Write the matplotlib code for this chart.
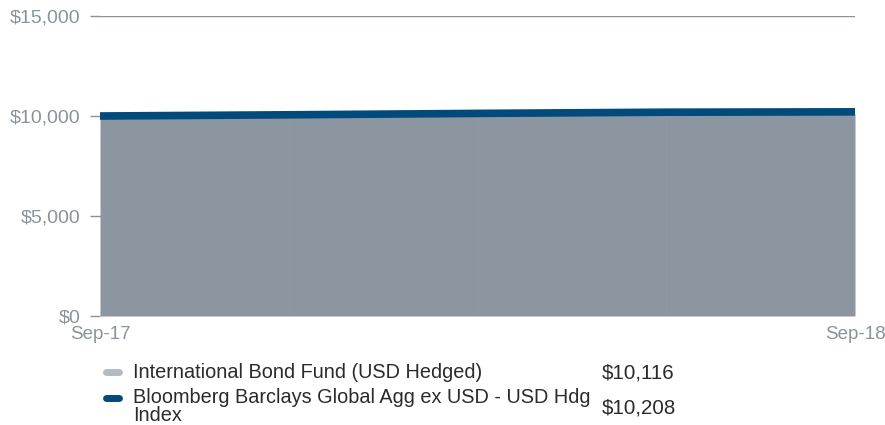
import matplotlib
matplotlib.use('Agg')
import matplotlib.pyplot as plt
from matplotlib.lines import Line2D
from matplotlib.ticker import FuncFormatter

plt.rcParams['font.family'] = ['Liberation Sans', 'DejaVu Sans']

# 季度数据 Sep-17 ~ Sep-18
quarters = ['Sep-17', 'Dec-17', 'Mar-18', 'Jun-18', 'Sep-18']
fund_values = [10000, 10040, 10080, 10110, 10116]
index_values = [10000, 10060, 10130, 10190, 10208]
x_ticks = ['Sep-17', 'Sep-18']
legend_names = ['International Bond Fund (USD Hedged)',
                'Bloomberg Barclays Global Agg ex USD - USD Hdg\nIndex']
legend_values = ['$10,116', '$10,208']

GRAY = '#8c96a1'
BLUE = '#004a7c'
LIGHT = '#b3bac2'
TICK = '#8a939c'
TEXT = '#2b2b2b'

fig = plt.figure(figsize=(8.85, 4.25), dpi=100)
ax = fig.add_axes([100 / 885, 109 / 425, 755 / 885, 300 / 425])

x = list(range(len(quarters)))
ax.fill_between(x, 0, fund_values, color=GRAY, linewidth=0, zorder=2)
for xi in x[1:-1]:
    ax.plot([xi, xi], [0, fund_values[xi]], color='#929ba5', lw=0.5, zorder=2.5)
ax.plot(x, index_values, color=BLUE, lw=5.5, solid_capstyle='butt', zorder=3)

ax.set_xlim(0, len(quarters) - 1)
ax.set_ylim(0, 15000)
ax.set_yticks([0, 5000, 10000, 15000])
ax.yaxis.set_major_formatter(FuncFormatter(lambda v, p: '${:,.0f}'.format(v)))
ax.set_xticks([0, len(quarters) - 1])
ax.set_xticklabels(x_ticks)

for s in ax.spines.values():
    s.set_visible(False)
ax.grid(axis='y', color=TICK, lw=1, zorder=1)
ax.tick_params(axis='y', length=7.2, width=1, color=TICK, labelcolor=TICK,
               labelsize=14, pad=7)
ax.tick_params(axis='x', length=0, labelcolor=TICK, labelsize=13.5, pad=7)

# 图例
swatch_y = [372, 398]
swatch_c = [LIGHT, BLUE]
for yy, c in zip(swatch_y, swatch_c):
    fig.add_artist(Line2D([106 / 885, 119 / 885], [1 - yy / 425, 1 - yy / 425],
                          color=c, lw=5, solid_capstyle='round'))
fig.text(133 / 885, 1 - 373 / 425, legend_names[0], ha='left', va='center',
         fontsize=14.3, color=TEXT)
fig.text(133 / 885, 1 - 388 / 425, legend_names[1], ha='left', va='top',
         fontsize=14.3, color=TEXT, linespacing=0.92)
fig.text(602 / 885, 1 - 373 / 425, legend_values[0], ha='left', va='center',
         fontsize=14.8, color=TEXT)
fig.text(602 / 885, 1 - 408 / 425, legend_values[1], ha='left', va='center',
         fontsize=14.8, color=TEXT)

fig.savefig('out.png', dpi=100)
